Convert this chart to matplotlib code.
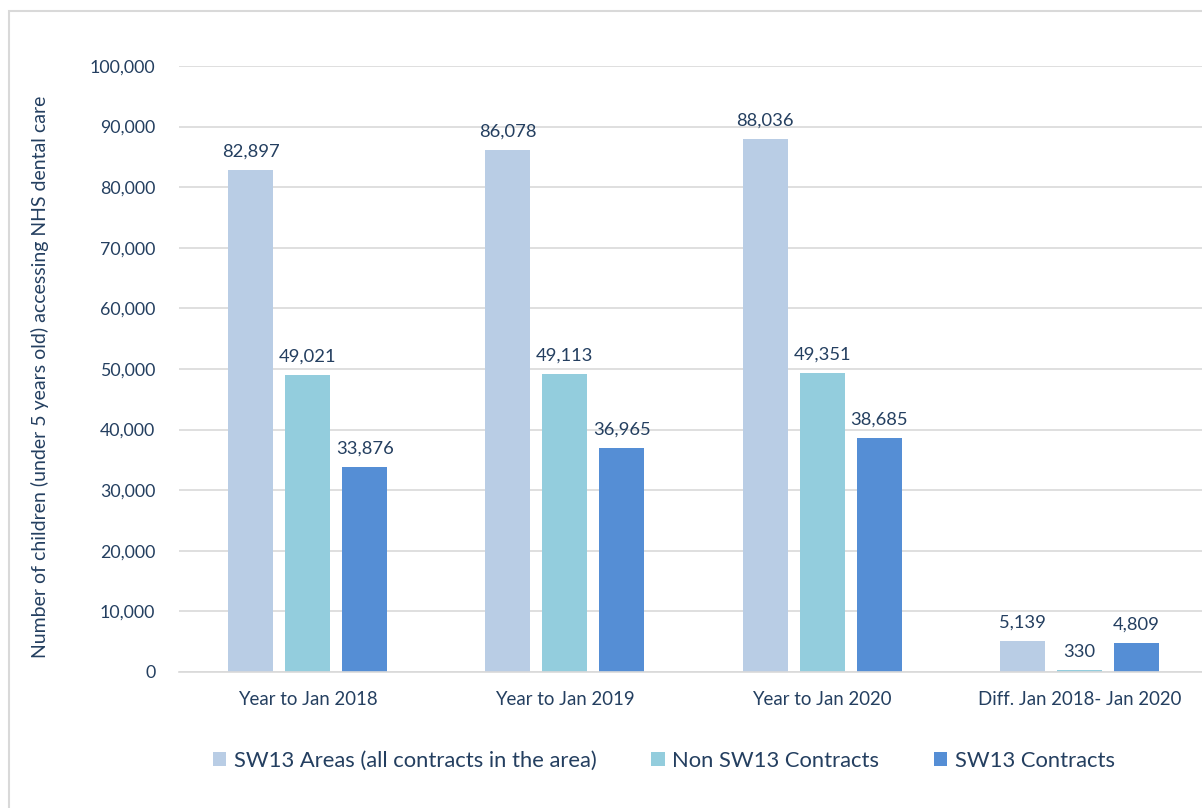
import numpy as np
import matplotlib.pyplot as plt
from matplotlib.patches import Rectangle

# Children under 5 accessing NHS dental care
categories = ['Year to Jan 2018', 'Year to Jan 2019', 'Year to Jan 2020',
              'Diff. Jan 2018- Jan 2020']
sw13_areas = [82897, 86078, 88036, 5139]
non_sw13 = [49021, 49113, 49351, 330]
sw13_contracts = [33876, 36965, 38685, 4809]

series = [
    ('SW13 Areas (all contracts in the area)', sw13_areas, '#B9CDE5'),
    ('Non SW13 Contracts', non_sw13, '#93CDDD'),
    ('SW13 Contracts', sw13_contracts, '#558ED5'),
]

text_col = '#243F60'
plt.rcParams['font.family'] = ['Lato', 'DejaVu Sans']

fig = plt.figure(figsize=(12.02, 8.08), dpi=100)
W, H = 1202, 808

# light frame around the chart
fig.patches.append(Rectangle((9 / W, -0.1), 1.2, 1 - 11 / H + 0.1,
                             transform=fig.transFigure, fill=False,
                             edgecolor='#D9D9D9', linewidth=1.5))

ax = fig.add_axes([179 / W, (808 - 672) / H, 1029 / W, 606 / H])

x = np.arange(len(categories))
width = 0.175
step = 0.222
for i, (name, vals, col) in enumerate(series):
    pos = x + (i - 1) * step
    ax.bar(pos, vals, width, color=col, label=name, zorder=2)
    for p, v in zip(pos, vals):
        ax.text(p, v + 1700, f'{v:,}', ha='center', va='bottom',
                fontsize=13.2, color=text_col)

ax.set_xlim(-0.5, 3.5)
ax.set_ylim(0, 100000)
ax.set_yticks(np.arange(0, 100001, 10000))
ax.set_yticklabels([f'{v:,}' for v in range(0, 100001, 10000)])
ax.set_xticks(x)
ax.set_xticklabels(categories)
ax.tick_params(axis='both', length=0, labelcolor=text_col)
ax.tick_params(axis='y', pad=17, labelsize=12.8)
ax.tick_params(axis='x', pad=14, labelsize=13.4)
ax.grid(axis='y', color='#D9D9D9', linewidth=1.2, zorder=0)
for s in ['top', 'right', 'left']:
    ax.spines[s].set_visible(False)
ax.spines['bottom'].set_color('#D9D9D9')
ax.spines['bottom'].set_linewidth(1.2)

fig.text(40 / W, 1 - 377 / H,
         'Number of children (under 5 years old) accessing NHS dental care',
         rotation=90, ha='center', va='center', fontsize=14, color=text_col)

leg = fig.legend(loc='center', bbox_to_anchor=(664 / W, 1 - 761 / H),
                 ncol=3, frameon=False, fontsize=15.8, handlelength=0.6,
                 handleheight=0.6, handletextpad=0.35, columnspacing=2.5)
for t in leg.get_texts():
    t.set_color(text_col)

fig.savefig('out.png', dpi=100)
